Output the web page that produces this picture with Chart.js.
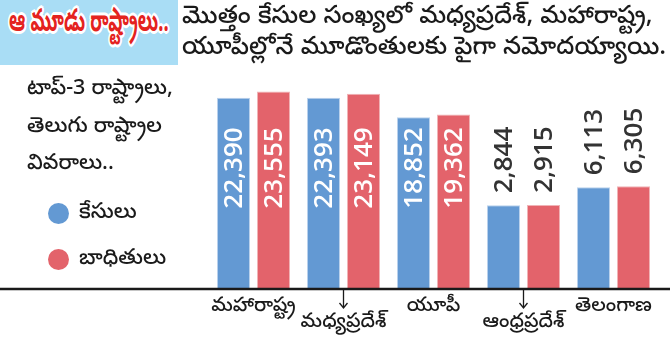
<!DOCTYPE html>
<html lang="te">
<head>
<meta charset="utf-8">
<title>ఆ మూడు రాష్ట్రాలు..</title>
<script src="https://cdn.jsdelivr.net/npm/chart.js@4/dist/chart.umd.min.js"></script>
<style>
  html, body { margin: 0; padding: 0; background: #fff; }
  body { width: 670px; height: 349px; position: relative; overflow: hidden;
         font-family: "Noto Sans Telugu", "Noto Sans", sans-serif; color: #1a1a1a; }
  #wrap { position: absolute; left: 0; top: 0; width: 670px; height: 349px; }
  .tag { position: absolute; left: 0; top: 0; width: 178px; height: 65px; background: #a9ddf5; overflow: hidden; }
  .tag span { position: absolute; left: 9px; top: 0; font-size: 31px; line-height: 50px; font-weight: 700;
              color: #e42320; white-space: nowrap; transform: scaleX(0.59); transform-origin: 0 0;
              text-shadow: 2px 2px 0 #fff, -2px -2px 0 #fff, 2px -2px 0 #fff, -2px 2px 0 #fff,
                           0 3px 0 #fff, 3px 0 0 #fff, 0 -3px 0 #fff, -3px 0 0 #fff; }
  .lead { position: absolute; left: 182px; top: 3px; font-size: 25px; line-height: 30.5px;
          font-weight: 500; white-space: nowrap; }
  .side { position: absolute; left: 27px; top: 71px; font-size: 21.5px; line-height: 37.5px;
          font-weight: 500; white-space: nowrap; }
  .legend { position: absolute; left: 48px; top: 190px; font-size: 21.5px; font-weight: 500; }
  .legend div { height: 46px; display: flex; align-items: center; white-space: nowrap; }
  .legend i { display: inline-block; width: 21px; height: 21px; border-radius: 50%; margin-right: 10px; }
</style>
</head>
<body>
<div id="wrap"><canvas id="chart" width="670" height="349"></canvas></div>
<div class="tag"><span>ఆ మూడు రాష్ట్రాలు..</span></div>
<div class="lead">మొత్తం కేసుల సంఖ్యలో మధ్యప్రదేశ్, మహారాష్ట్ర,<br>యూపీల్లోనే మూడొంతులకు పైగా నమోదయ్యాయి.</div>
<div class="side">టాప్-3 రాష్ట్రాలు,<br>తెలుగు రాష్ట్రాల<br>వివరాలు..</div>
<div class="legend" id="legend"></div>
<script>
  // states, cases and affected people
  const states = ["మహారాష్ట్ర", "మధ్యప్రదేశ్", "యూపీ", "ఆంధ్రప్రదేశ్", "తెలంగాణ"];
  const cases = [22390, 22393, 18852, 2844, 6113];
  const victims = [23555, 23149, 19362, 2915, 6305];
  const seriesNames = ["కేసులు", "బాధితులు"];
  const seriesColors = ["#6399d3", "#e3636b"];

  // bars are drawn from a value below zero so that small values stay visible
  const axisFloor = -12200;
  const axisTop = 30000;
  const insideLimit = 10000;

  // alternate labels drop one line and get an arrow
  const staggered = [false, true, false, true, false];

  const labelFont = "'Open Sans', 'DejaVu Sans', sans-serif";
  const teluguFont = "'Noto Sans Telugu', 'Noto Sans', sans-serif";

  function fmt(v) {
    return v.toLocaleString("en-US");
  }

  const valueLabels = {
    id: "valueLabels",
    afterDatasetsDraw(chart) {
      const ctx = chart.ctx;
      const area = chart.chartArea;
      ctx.save();
      ctx.font = "600 26px " + labelFont;
      chart.data.datasets.forEach(function (ds, di) {
        chart.getDatasetMeta(di).data.forEach(function (bar, i) {
          const v = ds.data[i];
          const inside = v > insideLimit;
          ctx.save();
          ctx.translate(bar.x, inside ? area.bottom - 120 : bar.y - 12);
          ctx.rotate(-Math.PI / 2);
          ctx.textBaseline = "middle";
          ctx.textAlign = inside ? "center" : "left";
          ctx.fillStyle = inside ? "#ffffff" : "#333333";
          ctx.fillText(fmt(v), 0, 1);
          ctx.restore();
        });
      });
      ctx.restore();
    }
  };

  const baseLine = {
    id: "baseLine",
    afterDraw(chart) {
      const ctx = chart.ctx;
      const y = chart.chartArea.bottom + 1;
      const x = chart.scales.x;
      ctx.save();
      ctx.strokeStyle = "#1a1a1a";
      ctx.lineWidth = 2.5;
      ctx.beginPath();
      ctx.moveTo(0, y);
      ctx.lineTo(chart.width, y);
      ctx.stroke();
      // arrows pointing at the dropped labels
      ctx.lineWidth = 1.3;
      staggered.forEach(function (low, i) {
        if (!low) return;
        const px = x.getPixelForValue(i);
        ctx.beginPath();
        ctx.moveTo(px, y);
        ctx.lineTo(px, y + 19);
        ctx.moveTo(px - 4, y + 14);
        ctx.lineTo(px, y + 19);
        ctx.lineTo(px + 4, y + 14);
        ctx.stroke();
      });
      ctx.restore();
    }
  };

  function buildLegend() {
    const box = document.getElementById("legend");
    seriesNames.forEach(function (name, i) {
      const row = document.createElement("div");
      const dot = document.createElement("i");
      dot.style.background = seriesColors[i];
      row.appendChild(dot);
      row.appendChild(document.createTextNode(name));
      box.appendChild(row);
    });
  }

  function init() {
    buildLegend();
    new Chart(document.getElementById("chart"), {
      type: "bar",
      data: {
        labels: states.map(function (s, i) {
          return staggered[i] ? ["", s] : s;
        }),
        datasets: [
          {
            label: seriesNames[0],
            data: cases,
            backgroundColor: seriesColors[0],
            borderColor: "#b9d1ec",
            borderWidth: 1,
            base: axisFloor
          },
          {
            label: seriesNames[1],
            data: victims,
            backgroundColor: seriesColors[1],
            borderColor: "#f0b3b6",
            borderWidth: 1,
            base: axisFloor
          }
        ]
      },
      options: {
        responsive: false,
        animation: false,
        events: [],
        categoryPercentage: 0.889,
        barPercentage: 0.825,
        layout: { padding: { left: 208.5, right: 11.5, top: 56, bottom: 0 } },
        plugins: {
          legend: { display: false },
          tooltip: { enabled: false }
        },
        scales: {
          x: {
            grid: { display: false, drawTicks: false },
            border: { display: false },
            ticks: {
              color: "#1a1a1a",
              padding: 12,
              maxRotation: 0,
              autoSkip: false,
              font: { family: teluguFont, size: 20, weight: "500", lineHeight: "16px" }
            },
            afterFit: function (scale) {
              scale.height = 61;
            }
          },
          y: {
            display: false,
            min: axisFloor,
            max: axisTop
          }
        }
      },
      plugins: [valueLabels, baseLine]
    });
  }

  if (document.readyState === "loading") {
    document.addEventListener("DOMContentLoaded", init);
  } else {
    init();
  }
</script>
</body>
</html>
